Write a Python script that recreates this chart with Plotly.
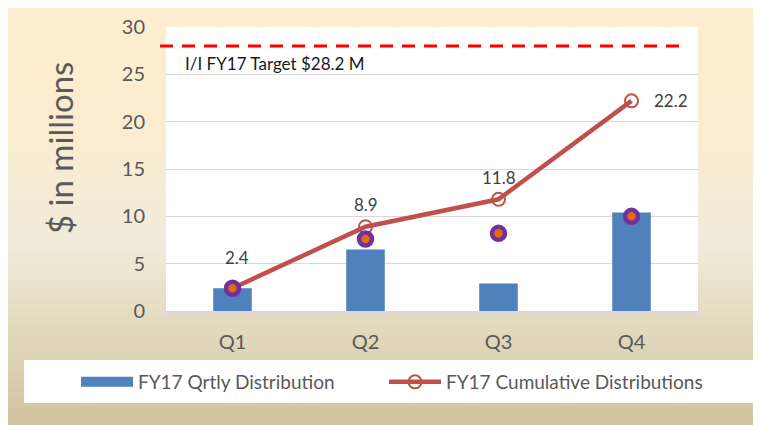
import plotly.graph_objects as go

# ---- data ----
quarters = ["Q1", "Q2", "Q3", "Q4"]
qrtly = [2.4, 6.5, 2.9, 10.4]
cumulative = [2.4, 8.9, 11.8, 22.2]
dots = [2.4, 7.6, 8.2, 10.0]
target_value = 28.0
target_label = "I/I FY17 Target $28.2 M"
y_ticks = [0, 5, 10, 15, 20, 25, 30]

# page body has an 8px margin -> figure is 8px smaller and offset
OFF = 8
W, H = 761 - OFF, 425 - OFF
ML, MR, MT = 166 - OFF, 761 - 698, 27 - OFF
MB = H - (311 - OFF)
PW, PH = W - ML - MR, H - MT - MB
FONT = "Lato"
GREY = "#595959"


def px(x):  # screen x (reference coords) -> paper
    return (x - OFF - ML) / PW


def py(y):  # screen y (reference coords) -> paper
    return (H - MB - (y - OFF)) / PH


def hex2rgb(h):
    h = h.lstrip("#")
    return [int(h[i:i + 2], 16) for i in (0, 2, 4)]


stops = [(3, "#FDEECF"), (110, "#FBECCF"), (245, "#F1EBDA"), (425, "#D1C39E")]


def grad(y):
    for (y0, c0), (y1, c1) in zip(stops[:-1], stops[1:]):
        if y0 <= y <= y1:
            t = (y - y0) / (y1 - y0)
            a, b = hex2rgb(c0), hex2rgb(c1)
            return "rgb(%d,%d,%d)" % tuple(round(a[i] + (b[i] - a[i]) * t) for i in range(3))
    return stops[-1][1]


shapes = []
step = 3
yy = 0
while yy < 425:
    shapes.append(dict(type="rect", xref="paper", yref="paper", layer="below",
                       x0=px(0), x1=px(770), y0=py(yy), y1=py(min(yy + step + 0.6, 430)),
                       line=dict(width=0), fillcolor=grad(max(yy + step / 2, 3))))
    yy += step
# plot area white
shapes.append(dict(type="rect", xref="paper", yref="paper", layer="below",
                   x0=0, x1=1, y0=0, y1=1, line=dict(width=0), fillcolor="white"))
# legend box
shapes.append(dict(type="rect", xref="paper", yref="paper", layer="below",
                   x0=px(24), x1=px(756), y0=py(403), y1=py(360),
                   line=dict(width=0), fillcolor="white"))
# target dashed line
shapes.append(dict(type="line", xref="paper", yref="y", layer="above",
                   x0=px(160), x1=px(688), y0=target_value, y1=target_value,
                   line=dict(color="#FF0000", width=3, dash="13px,9px")))

fig = go.Figure()
fig.add_trace(go.Bar(x=quarters, y=qrtly, name="FY17 Qrtly Distribution",
                     marker=dict(color="#4F81BD", line=dict(width=0)),
                     width=0.29, showlegend=False))
# legend stand-in for the bar series (wide rectangle symbol)
fig.add_trace(go.Scatter(x=[None], y=[None], mode="lines", name="FY17 Qrtly Distribution",
                         line=dict(color="#4F81BD", width=11), legend="legend"))
fig.add_trace(go.Scatter(x=quarters, y=cumulative, name="FY17 Cumulative Distributions",
                         mode="lines+markers", legend="legend2",
                         line=dict(color="#C0504D", width=4.5),
                         marker=dict(symbol="circle-open", size=13, color="#C0504D",
                                     line=dict(width=2, color="#C0504D"))))
fig.add_trace(go.Scatter(x=quarters, y=dots, mode="markers", showlegend=False,
                         marker=dict(size=13, color="#E36C09",
                                     line=dict(width=4.5, color="#7030A0"))))

annotations = []
shifts = [(4, 31), (0, 22), (0, 22), (39, 0)]
for q, v, (dx, dy) in zip(quarters, cumulative, shifts):
    annotations.append(dict(x=q, y=v, xref="x", yref="y", text="%.1f" % v,
                            showarrow=False, xshift=dx, yshift=dy,
                            font=dict(family=FONT, size=17, color="#404040")))
annotations.append(dict(x=px(183), y=py(63), xref="paper", yref="paper",
                        text=target_label, showarrow=False, xanchor="left", yanchor="middle",
                        font=dict(family=FONT, size=17, color="#1a1a1a")))
annotations.append(dict(x=px(60), y=py(148), xref="paper", yref="paper",
                        text="$ in millions", showarrow=False, textangle=-90,
                        xanchor="center", yanchor="middle",
                        font=dict(family=FONT, size=33, color=GREY)))

leg_common = dict(orientation="h", yanchor="middle", xanchor="left",
                  bgcolor="rgba(0,0,0,0)", itemwidth=52,
                  font=dict(family=FONT, size=19, color=GREY))

fig.update_layout(
    width=W, height=H,
    margin=dict(l=ML, r=MR, t=MT, b=MB, pad=0, autoexpand=False),
    paper_bgcolor="white", plot_bgcolor="rgba(0,0,0,0)",
    shapes=shapes, annotations=annotations,
    showlegend=True,
    legend=dict(x=px(76), y=py(382), **leg_common),
    legend2=dict(x=px(384), y=py(382), **leg_common),
    font=dict(family=FONT, color=GREY),
)
fig.update_xaxes(showgrid=False, showline=True, linecolor="#D9D9D9", linewidth=1.5,
                 ticks="outside", ticklen=12, tickcolor="rgba(0,0,0,0)",
                 tickfont=dict(family=FONT, size=20, color=GREY))
fig.update_yaxes(range=[0, 30], tickvals=y_ticks, showgrid=True, gridcolor="#D9D9D9",
                 gridwidth=1.3, zeroline=False, showline=False,
                 ticklabelstandoff=20,
                 tickfont=dict(family=FONT, size=20, color=GREY))

fig.write_html("out.html")
